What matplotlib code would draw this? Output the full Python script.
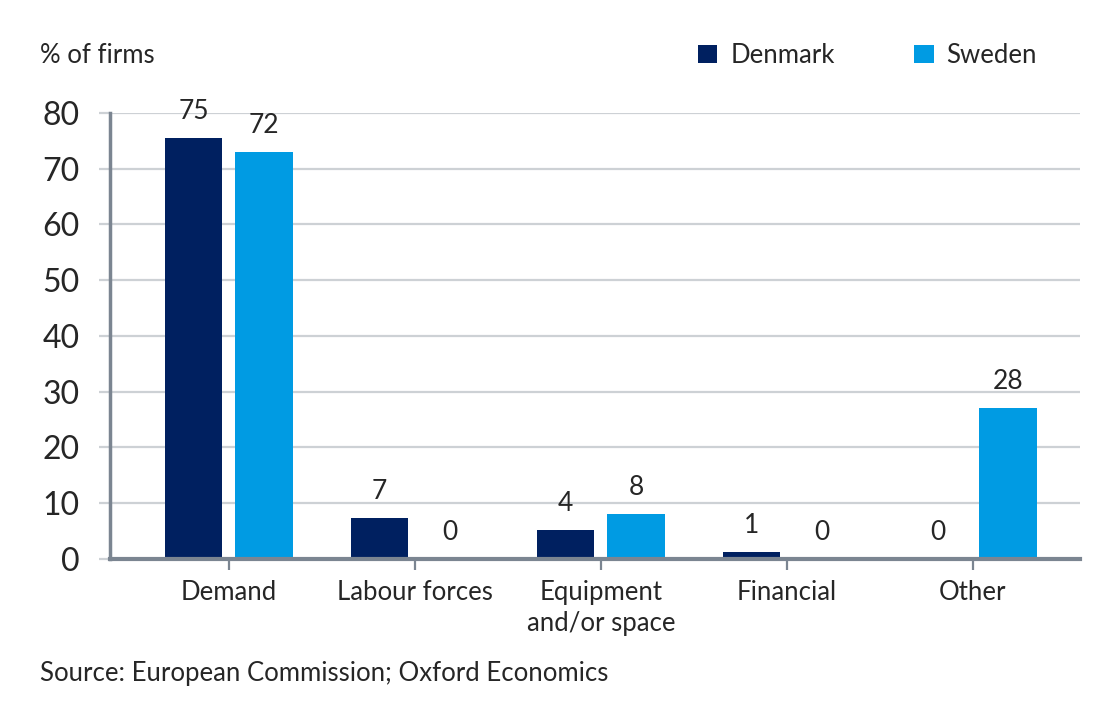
import matplotlib.pyplot as plt
import numpy as np
from matplotlib.patches import Patch

# --- Data ---
categories = ['Demand', 'Labour forces', 'Equipment\nand/or space', 'Financial', 'Other']
denmark = [75.5, 7.35, 5.2, 1.25, 0.0]
sweden = [73.0, 0.0, 8.1, 0.0, 27.1]
denmark_labels = ['75', '7', '4', '1', '0']
sweden_labels = ['72', '0', '8', '0', '28']
yticks = [0, 10, 20, 30, 40, 50, 60, 70, 80]

DK_COLOR = '#002060'
SE_COLOR = '#009BE3'
TEXT = '#262626'
AXIS = '#7B8591'
GRID = '#CDD1D5'

plt.rcParams['font.family'] = ['Lato', 'DejaVu Sans']

fig = plt.figure(figsize=(11.2, 7.2), dpi=100)
ax = fig.add_axes([0.0982, 0.2236, 0.8658, 0.6195])

x = np.arange(len(categories))
width = 0.31
offset = 0.19

ax.bar(x - offset, denmark, width, color=DK_COLOR, zorder=3)
ax.bar(x + offset, sweden, width, color=SE_COLOR, zorder=3)

# value labels above each bar
for xi, v, lab in zip(x - offset, denmark, denmark_labels):
    ax.annotate(lab, (xi, v), xytext=(0, 10), textcoords='offset points',
                ha='center', va='bottom', fontsize=19, color=TEXT, clip_on=False)
for xi, v, lab in zip(x + offset, sweden, sweden_labels):
    ax.annotate(lab, (xi, v), xytext=(0, 10), textcoords='offset points',
                ha='center', va='bottom', fontsize=19, color=TEXT, clip_on=False)

# --- Axes styling ---
ax.set_xlim(-0.64, 4.575)
ax.set_ylim(0, 80)
ax.set_yticks(yticks)
ax.set_yticklabels([str(t) for t in yticks], fontsize=23, color=TEXT)
ax.set_xticks(x)
ax.set_xticklabels(categories, fontsize=18.5, color=TEXT, linespacing=1.3)

ax.grid(axis='y', color=GRID, linewidth=1.6, zorder=0)
ax.tick_params(axis='y', length=8, width=1.6, color=GRID, pad=14)
ax.tick_params(axis='x', length=8, width=1.6, color=AXIS, pad=7)

for side in ['top', 'right']:
    ax.spines[side].set_visible(False)
ax.spines['left'].set_color(AXIS)
ax.spines['left'].set_linewidth(2.5)
ax.spines['bottom'].set_color(AXIS)
ax.spines['bottom'].set_linewidth(3)
ax.spines['bottom'].set_zorder(4)

# --- Legend ---
legend_elements = [Patch(facecolor=DK_COLOR, label='Denmark'),
                   Patch(facecolor=SE_COLOR, label='Sweden')]
fig.legend(handles=legend_elements, loc='center right', bbox_to_anchor=(0.935, 0.923),
           ncol=2, frameon=False, fontsize=18.5, handlelength=0.75, handleheight=0.75,
           handletextpad=0.5, columnspacing=3.1, labelcolor=TEXT, borderaxespad=0)

fig.text(0.036, 0.923, '% of firms', fontsize=18.5, color=TEXT, va='center', ha='left')
fig.text(0.036, 0.064, 'Source: European Commission; Oxford Economics', fontsize=18.5,
         color=TEXT, va='center', ha='left')

fig.savefig('out.png', dpi=100)
